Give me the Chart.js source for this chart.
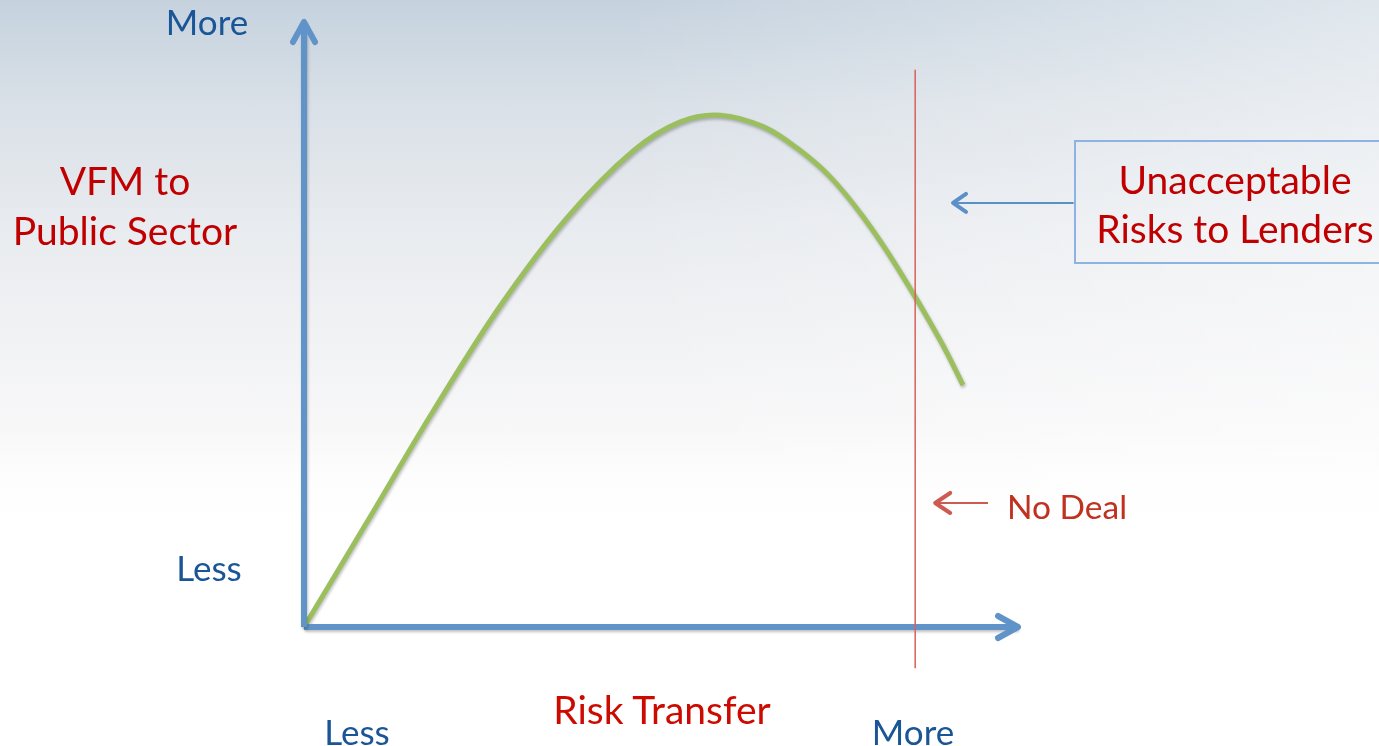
<!DOCTYPE html>
<html>
<head>
<meta charset="utf-8">
<script src="https://cdn.jsdelivr.net/npm/chart.js@4"></script>
<style>
  html, body { margin:0; padding:0; width:1379px; height:746px; overflow:hidden; }
  body {
    position:relative;
    background:
      linear-gradient(to right, rgba(255,255,255,0) 0%, rgba(255,255,255,0) 45%, rgba(255,255,255,0.45) 100%),
      linear-gradient(to bottom, #c5d2de 0%, #d9e0e7 14%, #e8ebef 30%, #f1f2f4 45%, #f8f8f9 58%, #fdfdfd 64%, #ffffff 70%, #ffffff 100%);
    font-family: Lato, "Open Sans", sans-serif;
  }
  #c { position:absolute; left:0; top:0; }
  .lbl { position:absolute; transform:translate(-50%,-50%); white-space:nowrap; text-align:center; }
  .blue { color:#1a5597; font-size:35px; }
  .red { color:#c00000; font-size:39px; line-height:50px; }
  #box { position:absolute; left:1074px; top:140px; width:320px; height:124px; border:2px solid #8db3e2; box-sizing:border-box; }
</style>
</head>
<body>
<canvas id="c" width="1379" height="746"></canvas>
<div id="box"></div>
<div class="lbl blue" style="left:207px; top:21px;">More</div>
<div class="lbl red" style="left:125px; top:205px;">VFM to<br>Public Sector</div>
<div class="lbl blue" style="left:209px; top:567px;">Less</div>
<div class="lbl red" style="left:1235px; top:204px; line-height:49px;">Unacceptable<br>Risks to Lenders</div>
<div class="lbl" style="left:1067px; top:506px; color:#c0311f; font-size:33.5px;">No Deal</div>
<div class="lbl red" style="left:662px; top:709px; color:#cc0a00;">Risk Transfer</div>
<div class="lbl blue" style="left:357px; top:731px;">Less</div>
<div class="lbl blue" style="left:913px; top:731px;">More</div>
<script>
// ---- data ----
const riskTransfer = [0, 0.88, 1.81, 2.75, 3.68, 4.61, 5.27, 5.83, 6.43, 6.90, 7.37, 7.83, 8.30, 8.91, 9.23];
const vfmValue     = [0, 1.73, 3.57, 5.31, 6.76, 7.87, 8.35, 8.46, 8.27, 7.92, 7.44, 6.78, 5.96, 4.74, 4.00];
const axisMax = 10;
const noDealX = 8.56;
const noDealRange = [-0.68, 9.21];
const lendersArrowX = [10.78, 9.09];
const lendersArrowY = 7.01;
const noDealArrowX = [9.58, 8.84];
const noDealArrowY = 2.05;

const curve = riskTransfer.map((x, i) => ({ x, y: vfmValue[i] }));

const arrowHeads = {
  id: 'arrowHeads',
  afterDatasetsDraw(chart) {
    const ctx = chart.ctx;
    chart.data.datasets.forEach((ds, i) => {
      if (!ds.arrow) return;
      const meta = chart.getDatasetMeta(i);
      const pts = meta.data;
      const a = pts[pts.length - 2], b = pts[pts.length - 1];
      const ang = Math.atan2(b.y - a.y, b.x - a.x);
      const L = ds.arrow.len, W = ds.arrow.spread;
      ctx.save();
      ctx.strokeStyle = ds.borderColor;
      ctx.lineWidth = ds.arrow.width;
      ctx.lineCap = 'round';
      ctx.lineJoin = 'round';
      ctx.beginPath();
      const bx = b.x - Math.cos(ang) * L, by = b.y - Math.sin(ang) * L;
      const nx = -Math.sin(ang) * W, ny = Math.cos(ang) * W;
      ctx.moveTo(bx + nx, by + ny);
      ctx.lineTo(b.x, b.y);
      ctx.lineTo(bx - nx, by - ny);
      ctx.stroke();
      ctx.restore();
    });
  }
};

const shadow = {
  id: 'shadow',
  beforeDatasetDraw(chart, args) {
    const ds = chart.data.datasets[args.index];
    if (!ds.shadowed) return;
    const ctx = chart.ctx;
    ctx.save();
    ctx.shadowColor = 'rgba(0,0,0,0.25)';
    ctx.shadowBlur = 3;
    ctx.shadowOffsetX = 1;
    ctx.shadowOffsetY = 2;
  },
  afterDatasetDraw(chart, args) {
    const ds = chart.data.datasets[args.index];
    if (!ds.shadowed) return;
    chart.ctx.restore();
  }
};

new Chart(document.getElementById('c'), {
  type: 'scatter',
  data: {
    datasets: [
      {
        label: 'No Deal line',
        data: [{ x: noDealX, y: noDealRange[0] }, { x: noDealX, y: noDealRange[1] }],
        showLine: true, borderColor: '#d9605a', borderWidth: 1.5, pointRadius: 0, clip: false
      },
      {
        label: 'Y axis',
        data: [{ x: 0, y: 0 }, { x: 0, y: axisMax }],
        showLine: true, borderColor: '#6094c9', borderWidth: 6, pointRadius: 0, clip: false,
        shadowed: true, arrow: { len: 20, spread: 11, width: 6 }
      },
      {
        label: 'X axis',
        data: [{ x: 0, y: 0 }, { x: axisMax, y: 0 }],
        showLine: true, borderColor: '#6094c9', borderWidth: 6, pointRadius: 0, clip: false,
        shadowed: true, arrow: { len: 20, spread: 11, width: 6 }
      },
      {
        label: 'VFM',
        data: curve,
        showLine: true, borderColor: '#9bbf5e', borderWidth: 5, pointRadius: 0,
        tension: 0.35, clip: false, shadowed: true
      },
      {
        label: 'Lenders arrow',
        data: [{ x: lendersArrowX[0], y: lendersArrowY }, { x: lendersArrowX[1], y: lendersArrowY }],
        showLine: true, borderColor: '#5b8fc8', borderWidth: 2, pointRadius: 0, clip: false,
        arrow: { len: 13, spread: 9, width: 4 }
      },
      {
        label: 'No Deal arrow',
        data: [{ x: noDealArrowX[0], y: noDealArrowY }, { x: noDealArrowX[1], y: noDealArrowY }],
        showLine: true, borderColor: '#cd5b52', borderWidth: 2, pointRadius: 0, clip: false,
        arrow: { len: 15, spread: 10, width: 4 }
      }
    ]
  },
  options: {
    responsive: false,
    animation: false,
    devicePixelRatio: 1,
    layout: { padding: { left: 304, right: 361, top: 22, bottom: 119 } },
    scales: {
      x: { type: 'linear', min: 0, max: axisMax, display: false },
      y: { type: 'linear', min: 0, max: axisMax, display: false }
    },
    plugins: { legend: { display: false }, tooltip: { enabled: false } },
    events: []
  },
  plugins: [shadow, arrowHeads]
});
</script>
</body>
</html>
